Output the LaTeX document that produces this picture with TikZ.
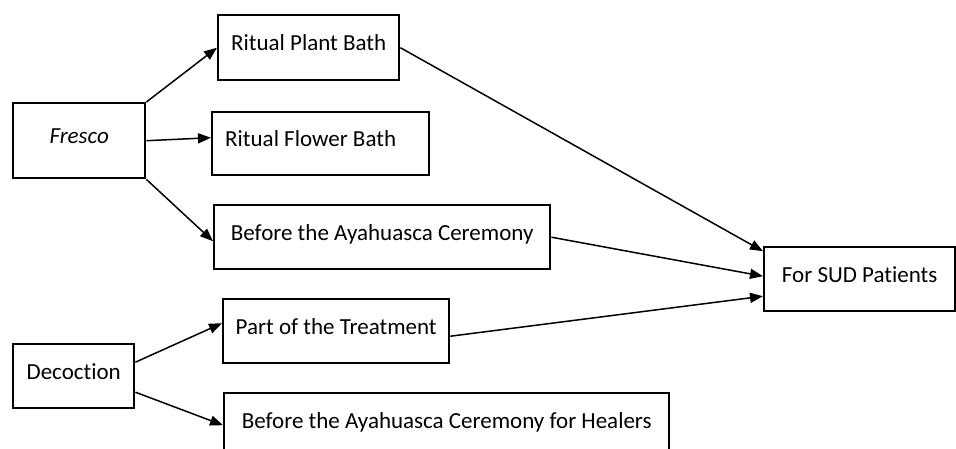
\documentclass[tikz,border=0pt]{standalone}
\usepackage{fontspec}
\setmainfont{Carlito}[Ligatures={NoCommon,NoRare,NoContextual}]
\usepackage{tikz}
\usetikzlibrary{positioning,arrows.meta}

\tikzset{
  stepbox/.style={draw, rectangle, line width=2.4pt, anchor=north west, inner sep=0pt,
    text height=16pt, text depth=10pt, font=\fontsize{23}{27}\selectfont},
  flow/.style={-{Triangle[length=13pt,width=10pt]}, line width=1.5pt}
}

\begin{document}
\begin{tikzpicture}[x=1pt, y=-1pt]
\useasboundingbox (0,0) rectangle (956,448);

% Sources
\node[stepbox, minimum width=132, minimum height=75] (fresco) at (12,102) {\textit{Fresco}};
\node[stepbox, minimum width=121, minimum height=64] (decoction) at (12,343) {Decoction};

% Uses
\node[stepbox, minimum width=181, minimum height=65] (plant) at (217,14) {Ritual Plant Bath};
\node[stepbox, minimum width=217, minimum height=63, text width=191, align=flush left, inner xsep=13] (flower) at (211,111) {Ritual Flower Bath};
\node[stepbox, minimum width=336, minimum height=64] (ceremony) at (213,204) {Before the Ayahuasca Ceremony};
\node[stepbox, minimum width=226, minimum height=64] (treatment) at (222,298) {Part of the Treatment};
\node[stepbox, minimum width=445, minimum height=64] (healers) at (223,392) {Before the Ayahuasca Ceremony for Healers};

% Target
\node[stepbox, minimum width=191, minimum height=64] (sud) at (763,246) {For SUD Patients};

% Arrows
\draw[flow] (fresco.north east) -- (plant.west);
\draw[flow] (fresco.east) -- ([yshift=6pt]flower.west);
\draw[flow] (fresco.south east) -- ([yshift=-4pt]ceremony.west);
\draw[flow] ([yshift=14pt]decoction.east) -- ([yshift=8pt]treatment.west);
\draw[flow] ([yshift=-16pt]decoction.east) -- (healers.west);

\draw[flow] (plant.east) -- ([yshift=28pt]sud.west);
\draw[flow] (ceremony.east) -- ([yshift=3pt]sud.west);
\draw[flow] ([yshift=-5pt]treatment.east) -- ([yshift=-17pt]sud.west);

\end{tikzpicture}
\end{document}
